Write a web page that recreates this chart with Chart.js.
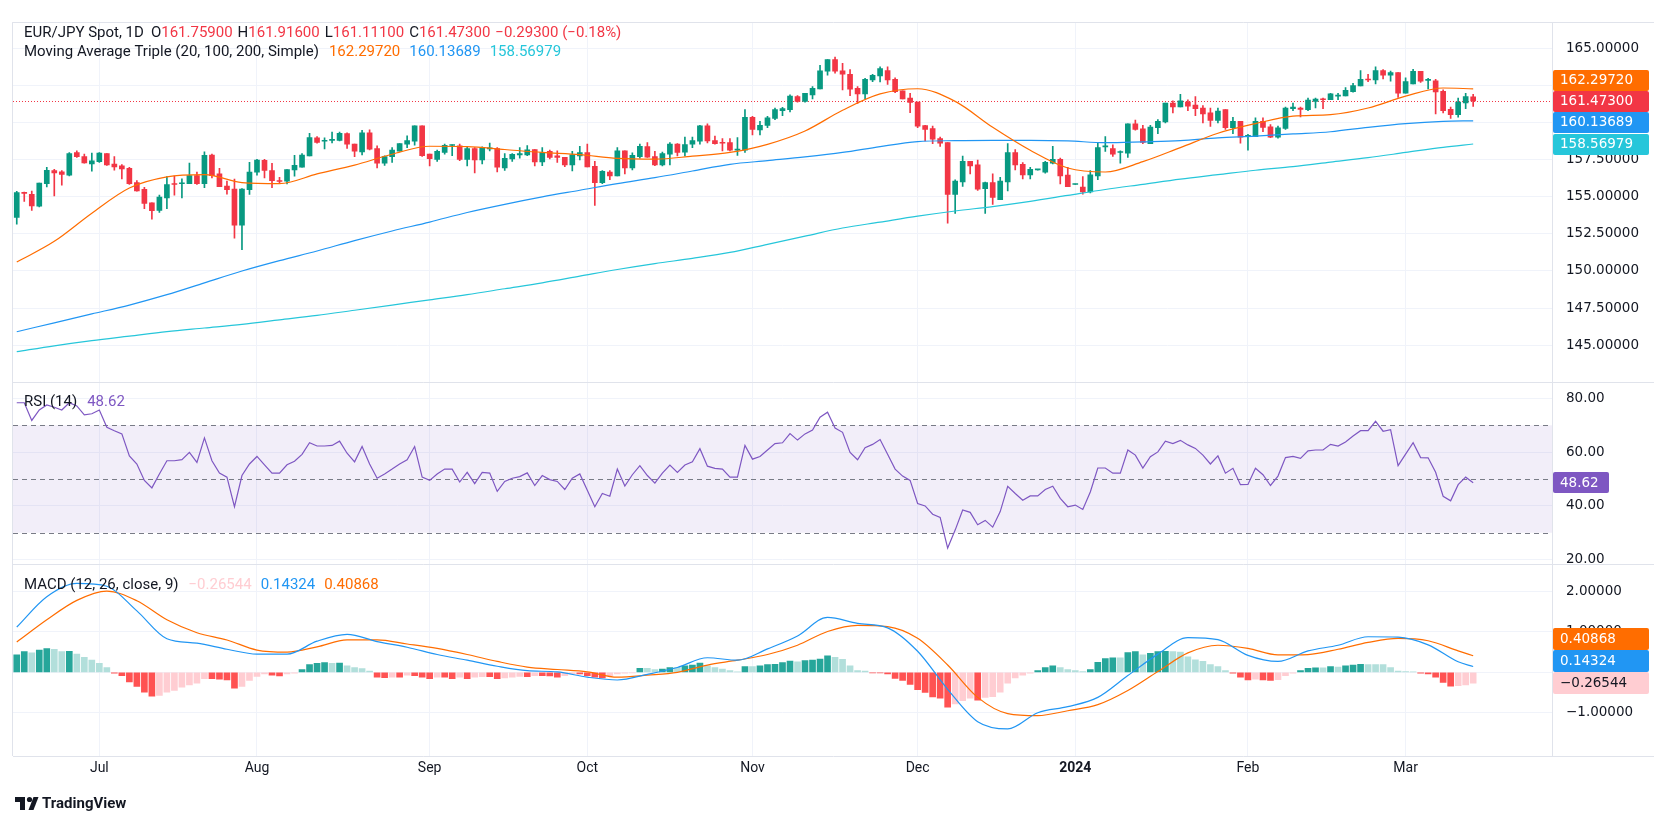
<!DOCTYPE html>
<html>
<head>
<meta charset="utf-8">
<title>EUR/JPY Spot, 1D</title>
<script src="https://cdn.jsdelivr.net/npm/chart.js@4.4.1/dist/chart.umd.min.js"></script>
<style>
html, body { margin: 0; padding: 0; background: #ffffff; }
#chartBox { position: relative; width: 1654px; height: 825px; }
canvas { display: block; }
</style>
</head>
<body>
<div id="chartBox"><canvas id="eurJpyChart" width="1654" height="825"></canvas></div>
<script>

// =====================================
// DATA
// =====================================

const firstDay = "2023-06-16";
const slotCount = 205; // 195 daily bars + empty room on the right
const monthTickText = ["Jul", "Aug", "Sep", "Oct", "Nov", "Dec", "2024", "Feb", "Mar"];

const openPrices = [
  153.62, 155.29, 155.18, 154.38, 155.89, 156.78, 156.69, 156.47, 158.00, 157.73,
  157.22, 157.38, 157.93, 157.22, 157.09, 156.93, 155.96, 155.51, 154.60, 154.09,
  154.93, 155.89, 155.89, 155.89, 156.44, 155.89, 157.82, 156.56, 155.73, 155.53,
  153.09, 155.49, 156.67, 157.47, 156.78, 156.09, 156.07, 156.82, 157.00, 157.76,
  158.98, 158.76, 158.82, 158.82, 159.27, 158.56, 158.04, 159.33, 158.27, 157.27,
  157.71, 158.09, 158.56, 158.76, 159.80, 157.89, 157.53, 158.00, 158.47, 158.44,
  157.53, 158.27, 157.49, 158.24, 158.27, 156.96, 157.56, 157.84, 157.84, 158.20,
  157.36, 158.07, 157.78, 157.67, 157.16, 157.76, 158.00, 157.07, 155.96, 156.67,
  156.42, 158.11, 156.96, 157.71, 158.40, 157.73, 157.16, 157.89, 158.56, 158.02,
  158.56, 158.76, 159.80, 158.80, 158.67, 158.67, 158.16, 158.16, 160.38, 159.53,
  159.82, 160.29, 160.82, 160.89, 161.78, 161.44, 161.89, 162.29, 163.49, 164.27,
  163.51, 163.27, 162.33, 161.96, 162.89, 163.16, 163.53, 162.93, 162.16, 161.67,
  161.40, 159.82, 159.62, 158.93, 158.67, 155.16, 156.02, 157.40, 157.16, 155.56,
  155.96, 154.82, 156.02, 158.00, 157.20, 156.49, 156.82, 156.67, 157.27, 157.53,
  156.47, 155.84, 155.67, 155.33, 156.42, 158.38, 158.27, 158.00, 157.96, 159.93,
  159.60, 158.60, 159.67, 160.07, 161.33, 161.07, 161.40, 161.20, 161.00, 160.67,
  160.16, 160.89, 159.67, 160.11, 159.09, 159.07, 160.11, 159.73, 159.04, 159.62,
  160.95, 161.00, 160.89, 161.44, 161.62, 161.56, 161.80, 161.82, 162.11, 162.49,
  162.96, 162.89, 163.53, 163.22, 163.40, 162.00, 162.62, 163.47, 162.87, 162.84,
  162.13, 160.91, 160.55, 161.35, 161.759
];

const highPrices = [
  155.38, 155.33, 155.40, 155.93, 157.00, 156.87, 156.78, 158.00, 158.11, 157.89,
  157.96, 158.00, 157.93, 157.73, 157.18, 157.00, 156.11, 155.64, 154.60, 155.13,
  156.38, 156.40, 156.22, 157.29, 156.67, 158.04, 157.89, 156.93, 156.07, 156.20,
  155.56, 157.33, 157.53, 157.53, 157.27, 156.33, 156.84, 157.80, 157.93, 159.29,
  159.07, 158.98, 159.38, 159.38, 159.33, 158.56, 159.49, 159.53, 158.44, 157.78,
  158.33, 158.60, 159.13, 159.80, 159.80, 157.89, 158.16, 158.56, 158.51, 158.56,
  158.38, 158.33, 158.38, 158.64, 158.33, 157.93, 157.93, 158.33, 158.47, 158.20,
  158.33, 158.16, 158.11, 157.67, 158.07, 158.42, 158.56, 157.40, 156.78, 156.78,
  158.33, 158.11, 157.98, 158.56, 158.67, 158.07, 158.02, 158.67, 158.60, 159.04,
  159.04, 159.84, 159.93, 159.11, 158.93, 158.93, 159.00, 160.89, 160.44, 160.11,
  160.44, 161.00, 161.04, 161.89, 161.84, 162.00, 162.44, 163.89, 164.27, 164.44,
  164.02, 163.60, 162.44, 163.00, 163.27, 163.78, 163.78, 163.04, 162.16, 162.00,
  161.40, 159.84, 159.78, 159.04, 158.67, 156.16, 157.76, 157.40, 157.49, 156.00,
  156.56, 156.33, 158.60, 158.20, 157.31, 157.00, 156.87, 157.40, 158.42, 157.62,
  157.00, 155.87, 156.38, 156.78, 158.64, 159.07, 158.51, 158.11, 159.93, 160.18,
  159.84, 159.84, 160.22, 161.33, 161.49, 161.93, 161.56, 161.78, 161.16, 161.00,
  161.00, 160.89, 160.38, 160.11, 159.22, 160.33, 160.33, 159.89, 159.78, 161.07,
  161.33, 161.07, 161.67, 161.67, 161.67, 162.00, 162.00, 162.38, 162.67, 163.53,
  163.27, 163.78, 163.60, 163.49, 163.40, 163.04, 163.62, 163.47, 163.00, 162.93,
  162.22, 161.07, 161.67, 162.00, 161.916
];

const lowPrices = [
  153.16, 154.70, 154.09, 154.33, 155.67, 155.07, 155.80, 156.42, 157.67, 157.27,
  156.73, 157.33, 157.13, 156.80, 156.22, 155.84, 155.38, 154.20, 153.49, 153.96,
  154.20, 155.11, 154.93, 155.89, 155.84, 155.62, 156.29, 155.69, 155.18, 152.22,
  151.44, 155.16, 156.47, 156.29, 155.62, 155.89, 155.87, 156.40, 157.00, 157.76,
  158.62, 158.24, 158.64, 158.78, 158.27, 157.71, 157.84, 158.18, 156.96, 157.13,
  157.33, 158.09, 158.33, 158.49, 157.73, 157.09, 157.40, 157.89, 157.78, 157.44,
  157.09, 156.62, 157.22, 158.11, 156.69, 156.78, 157.40, 157.62, 157.78, 157.09,
  157.11, 157.56, 157.33, 157.04, 156.76, 157.49, 157.02, 154.42, 155.89, 156.16,
  156.42, 156.56, 156.82, 157.62, 157.67, 157.11, 157.09, 157.16, 157.76, 157.76,
  158.33, 158.56, 158.64, 158.56, 158.11, 158.11, 157.80, 158.00, 159.18, 159.18,
  159.67, 160.22, 160.49, 160.73, 161.40, 161.40, 161.62, 162.29, 163.22, 163.36,
  162.22, 161.84, 161.31, 161.62, 162.78, 162.76, 162.60, 162.04, 161.62, 160.69,
  159.67, 158.78, 158.60, 158.40, 153.22, 153.89, 155.71, 156.56, 155.44, 153.89,
  154.49, 154.82, 155.40, 156.82, 156.22, 156.22, 156.80, 156.60, 157.22, 155.87,
  155.69, 155.84, 155.18, 155.27, 156.16, 158.07, 157.73, 157.27, 157.67, 159.51,
  158.60, 158.60, 159.27, 160.00, 160.67, 161.07, 160.82, 160.49, 160.00, 159.76,
  160.00, 159.56, 159.27, 158.62, 158.16, 159.07, 159.40, 159.00, 158.96, 159.56,
  160.82, 160.40, 160.82, 161.00, 160.96, 161.56, 161.56, 161.82, 162.07, 162.49,
  162.78, 162.62, 162.96, 162.82, 161.71, 162.00, 162.62, 162.73, 162.29, 160.60,
  160.67, 160.29, 160.38, 160.95, 161.111
];

const closePrices = [
  155.29, 155.24, 154.40, 155.93, 156.80, 156.62, 156.51, 157.93, 157.71, 157.29,
  157.44, 157.96, 157.16, 157.02, 156.89, 155.89, 155.40, 154.56, 154.07, 154.98,
  155.84, 155.84, 155.93, 156.44, 155.89, 157.80, 156.44, 155.69, 155.49, 153.09,
  155.53, 156.67, 157.49, 156.78, 156.09, 156.04, 156.84, 157.13, 157.82, 159.00,
  158.67, 158.78, 158.87, 159.29, 158.56, 158.09, 159.33, 158.22, 157.27, 157.73,
  158.16, 158.60, 158.80, 159.80, 157.78, 157.58, 158.07, 158.49, 158.51, 157.53,
  158.27, 157.49, 158.33, 158.29, 157.00, 157.60, 157.87, 157.93, 158.18, 157.36,
  158.00, 157.67, 157.67, 157.16, 157.84, 158.00, 157.02, 155.96, 156.73, 156.42,
  158.11, 156.96, 157.80, 158.42, 157.69, 157.16, 157.93, 158.56, 158.00, 158.53,
  158.80, 159.80, 158.78, 158.60, 158.62, 158.16, 158.20, 160.38, 159.56, 159.84,
  160.33, 160.89, 160.96, 161.80, 161.44, 162.00, 162.33, 163.51, 164.27, 163.49,
  163.29, 162.27, 161.96, 162.93, 163.20, 163.67, 162.89, 162.11, 161.62, 161.38,
  159.78, 159.56, 158.89, 158.62, 155.16, 156.07, 157.40, 157.09, 155.53, 155.96,
  154.96, 156.07, 158.00, 157.16, 156.49, 156.87, 156.87, 157.33, 157.53, 156.42,
  155.69, 155.87, 155.33, 156.49, 158.33, 158.44, 157.89, 158.04, 159.93, 159.56,
  158.67, 159.71, 160.11, 161.33, 161.07, 161.49, 161.13, 160.96, 160.60, 160.16,
  160.80, 159.67, 160.11, 159.04, 159.16, 160.11, 159.69, 159.04, 159.67, 161.00,
  161.07, 160.91, 161.53, 161.60, 161.56, 161.96, 161.84, 162.20, 162.51, 162.93,
  162.89, 163.53, 163.22, 163.40, 162.00, 162.78, 163.47, 162.82, 162.93, 162.09,
  160.82, 160.55, 161.40, 161.78, 161.473
];

// moving averages, one reading every maStep bars (last one on the last bar)
const maStep = 5;
const ma20 = [
  150.6, 152.0, 153.9, 155.6, 156.35, 156.5, 155.97, 155.9, 156.55, 157.15,
  157.88, 158.42, 158.4, 158.2, 158.0, 157.85, 157.6, 157.55, 157.75, 158.0,
  158.55, 159.45, 160.85, 161.95, 162.3, 161.45, 159.7, 158.15, 156.95, 156.68,
  157.38, 158.33, 159.3, 159.95, 160.45, 160.55, 161.0, 161.8, 162.35, 162.2972
];
const ma100 = [
  145.9, 146.5, 147.1, 147.7, 148.4, 149.2, 150.0, 150.7, 151.35, 152.05,
  152.7, 153.3, 153.95, 154.5, 155.0, 155.45, 155.9, 156.3, 156.75, 157.2,
  157.45, 157.7, 158.0, 158.4, 158.73, 158.8, 158.82, 158.82, 158.78, 158.66,
  158.72, 158.8, 158.98, 159.1, 159.25, 159.4, 159.7, 159.95, 160.1, 160.13689
];
const ma200 = [
  144.55, 144.95, 145.3, 145.6, 145.9, 146.15, 146.4, 146.7, 147.0, 147.35,
  147.7, 148.05, 148.4, 148.8, 149.2, 149.65, 150.1, 150.5, 150.85, 151.25,
  151.8, 152.35, 152.9, 153.3, 153.7, 154.05, 154.35, 154.7, 155.1, 155.5,
  155.85, 156.2, 156.5, 156.8, 157.05, 157.35, 157.65, 158.0, 158.35, 158.56979
];

const rsi14 = [
  78.4, 78.4, 71.8, 75.7, 77.6, 76.7, 75.7, 78.4, 77.2, 73.9,
  74.3, 75.7, 69.3, 68.0, 66.8, 58.6, 55.6, 49.5, 46.7, 51.9,
  56.8, 56.8, 57.2, 59.9, 56.2, 65.3, 56.8, 52.2, 50.7, 39.7,
  51.3, 55.6, 58.4, 55.3, 52.2, 52.2, 55.3, 56.6, 59.2, 63.5,
  62.3, 62.3, 62.5, 64.1, 59.6, 56.4, 62.1, 55.6, 50.3, 51.9,
  53.7, 55.6, 57.2, 62.1, 50.7, 49.5, 51.9, 53.7, 53.7, 48.9,
  52.5, 48.3, 52.5, 52.2, 45.4, 49.1, 50.3, 50.9, 52.3, 47.6,
  51.3, 49.8, 49.1, 46.1, 50.3, 51.9, 45.8, 39.7, 44.6, 43.6,
  53.7, 47.4, 51.6, 55.0, 51.3, 48.5, 52.2, 55.2, 52.5, 55.2,
  56.4, 61.3, 54.8, 54.0, 53.7, 50.7, 50.7, 62.5, 57.4, 58.4,
  60.8, 63.2, 63.5, 66.9, 64.5, 66.8, 68.2, 73.0, 74.9, 69.0,
  67.4, 59.9, 57.2, 61.7, 62.9, 64.7, 59.2, 53.7, 51.1, 49.5,
  40.9, 40.0, 36.9, 35.7, 24.3, 31.0, 38.5, 37.6, 33.0, 34.6,
  32.1, 37.9, 47.3, 44.6, 42.1, 43.7, 43.7, 46.1, 47.3, 42.8,
  39.7, 40.3, 38.7, 45.2, 54.1, 54.1, 52.2, 52.2, 60.8, 58.9,
  54.1, 58.3, 60.1, 64.1, 63.2, 64.4, 62.7, 61.4, 58.9, 55.6,
  58.6, 52.2, 54.0, 47.9, 48.0, 54.0, 51.6, 47.6, 51.1, 58.0,
  58.4, 57.7, 60.5, 60.8, 60.8, 62.9, 62.3, 63.8, 66.0, 68.0,
  68.0, 71.5, 67.8, 68.4, 55.0, 59.3, 63.5, 58.0, 57.9, 52.5,
  43.6, 41.9, 47.9, 50.7, 48.62
];
const rsiBand = [70, 30];
const rsiLevels = [70, 50, 30];

// MACD and signal, one reading every macdStep bars (last one on the last bar)
const macdStep = 4;
const macdLine = [
  1.12, 1.87, 2.20, 2.13, 1.52, 0.83, 0.72, 0.57, 0.45, 0.45,
  0.77, 0.94, 0.76, 0.62, 0.44, 0.30, 0.15, 0.04, 0.01, -0.12,
  -0.19, -0.05, 0.12, 0.36, 0.30, 0.58, 0.90, 1.36, 1.21, 1.10,
  0.52, -0.42, -1.22, -1.40, -1.00, -0.85, -0.62, -0.08, 0.45, 0.86,
  0.81, 0.42, 0.27, 0.53, 0.67, 0.88, 0.87, 0.68, 0.26, 0.14324
];
const signalLine = [
  0.75, 1.30, 1.78, 2.01, 1.77, 1.30, 0.98, 0.80, 0.55, 0.50,
  0.63, 0.80, 0.80, 0.70, 0.59, 0.44, 0.27, 0.13, 0.07, 0.01,
  -0.12, -0.07, 0.00, 0.18, 0.30, 0.44, 0.67, 1.01, 1.16, 1.13,
  0.84, 0.18, -0.62, -1.02, -1.07, -0.95, -0.80, -0.45, 0.02, 0.48,
  0.67, 0.59, 0.43, 0.44, 0.57, 0.74, 0.84, 0.78, 0.53, 0.40868
];
const macdHist = [
  0.43, 0.51, 0.48, 0.55, 0.59, 0.57, 0.51, 0.52, 0.45, 0.37,
  0.30, 0.22, 0.12, -0.02, -0.08, -0.24, -0.35, -0.49, -0.59, -0.57,
  -0.49, -0.45, -0.37, -0.31, -0.27, -0.16, -0.16, -0.17, -0.19, -0.39,
  -0.35, -0.20, -0.10, -0.04, -0.07, -0.09, -0.04, -0.02, 0.07, 0.19,
  0.22, 0.24, 0.22, 0.23, 0.16, 0.12, 0.09, 0.03, -0.12, -0.13,
  -0.12, -0.12, -0.07, -0.08, -0.12, -0.16, -0.12, -0.12, -0.16, -0.12,
  -0.16, -0.12, -0.11, -0.11, -0.16, -0.14, -0.12, -0.10, -0.11, -0.08,
  -0.08, -0.09, -0.12, -0.08, -0.04, -0.04, -0.08, -0.12, -0.14, -0.08,
  -0.04, -0.02, -0.01, 0.10, 0.10, 0.07, 0.08, 0.12, 0.12, 0.16,
  0.18, 0.23, 0.16, 0.12, 0.08, 0.04, 0.01, 0.14, 0.14, 0.16,
  0.19, 0.20, 0.24, 0.28, 0.26, 0.29, 0.30, 0.33, 0.41, 0.37,
  0.32, 0.16, 0.04, 0.03, -0.01, -0.01, -0.04, -0.15, -0.20, -0.30,
  -0.43, -0.50, -0.61, -0.64, -0.86, -0.78, -0.70, -0.64, -0.69, -0.62,
  -0.60, -0.49, -0.27, -0.14, -0.07, -0.02, 0.04, 0.12, 0.16, 0.12,
  0.07, 0.04, 0.02, 0.07, 0.25, 0.34, 0.36, 0.36, 0.49, 0.51,
  0.43, 0.47, 0.51, 0.52, 0.51, 0.50, 0.38, 0.31, 0.27, 0.19,
  0.14, 0.04, -0.02, -0.12, -0.19, -0.17, -0.19, -0.20, -0.18, -0.08,
  -0.02, 0.04, 0.10, 0.11, 0.11, 0.14, 0.13, 0.16, 0.18, 0.20,
  0.19, 0.19, 0.19, 0.12, 0.03, 0.02, 0.01, -0.02, -0.04, -0.12,
  -0.25, -0.34, -0.33, -0.31, -0.26544
];

const priceTicks = [145, 147.5, 150, 152.5, 155, 157.5, 160, 162.5, 165];
const rsiTicks = [20, 40, 60, 80];
const macdTicks = [-1, 0, 1, 2];


// =====================================
// COLOURS / FONTS
// =====================================

const TEXT = "#131722";
const GRID = "#f0f3fa";
const PANE_LINE = "#e0e3eb";
const UP = "#089981";
const DOWN = "#f23645";
const MA_COLORS = ["#ff6d00", "#2196f3", "#26c6da"];
const RSI_COLOR = "#7e57c2";
const MACD_COLOR = "#2196f3";
const SIGNAL_COLOR = "#ff6d00";
const FONT = "Roboto, 'Noto Sans', 'Liberation Sans', sans-serif";
const AXIS_FONT = "'DejaVu Sans', Roboto, sans-serif";
const LEGEND_PX = 15;
const AXIS_PX = 13.5;

Chart.defaults.font.family = FONT;
Chart.defaults.color = TEXT;


// =====================================
// DERIVED TABLES FOR THE LIBRARY
// =====================================

const dates = [];
const day = new Date(firstDay + "T00:00:00Z");
while (dates.length < slotCount) {
  const wd = day.getUTCDay();
  if (wd !== 0 && wd !== 6) dates.push(new Date(day));
  day.setUTCDate(day.getUTCDate() + 1);
}
const labels = dates.map(d => d.toISOString().slice(0, 10));

const tickText = labels.map(() => "");
let monthNo = 0;
for (let i = 1; i < dates.length && monthNo < monthTickText.length; i++) {
  if (dates[i].getUTCMonth() !== dates[i - 1].getUTCMonth()) {
    tickText[i] = monthTickText[monthNo++];
  }
}

const lastBar = closePrices.length - 1;

function sampled(values, step) {
  return values.map((v, k) => ({ x: labels[Math.min(k * step, lastBar)], y: v }));
}

const bodies = openPrices.map((o, i) => [o, closePrices[i]]);
const wicks = lowPrices.map((l, i) => [l, highPrices[i]]);
const candleColors = openPrices.map((o, i) => closePrices[i] >= o ? UP : DOWN);

const histColors = macdHist.map((h, i) => {
  const prev = i > 0 ? macdHist[i - 1] : 0;
  if (h >= 0) return prev < h ? "#26a69a" : "#b2dfdb";
  return prev < h ? "#ffcdd2" : "#ff5252";
});

function fmt(v, digits) {
  const s = Math.abs(v).toFixed(digits);
  return v < 0 ? "\u2212" + s : s;
}


// =====================================
// PANE SCALES
// =====================================

function paneScale(weight, min, max, ticks, digits) {
  return {
    type: "linear",
    position: "right",
    stack: "panes",
    stackWeight: weight,
    min: min,
    max: max,
    afterBuildTicks: s => { s.ticks = ticks.map(v => ({ value: v })); },
    afterFit: s => { s.width = 102; },
    grid: { color: GRID, drawTicks: false },
    border: { color: PANE_LINE },
    ticks: {
      color: TEXT,
      padding: 14,
      font: { family: AXIS_FONT, size: AXIS_PX },
      callback: v => fmt(v, digits)
    }
  };
}


// =====================================
// OVERLAYS (legend texts, bands, value boxes)
// =====================================

function drawParts(ctx, x, y, parts) {
  ctx.font = LEGEND_PX + "px " + FONT;
  ctx.textBaseline = "middle";
  ctx.textAlign = "left";
  for (const [text, color, gap] of parts) {
    ctx.fillStyle = color;
    ctx.fillText(text, x, y);
    x += ctx.measureText(text).width + gap;
  }
}

function drawBoxes(ctx, scale, items, h, left) {
  items.forEach(it => { it.y = scale.getPixelForValue(it.v); });
  items.sort((a, b) => a.y - b.y);
  const a = items.findIndex(it => it.anchor);
  for (let j = a - 1; j >= 0; j--) items[j].y = Math.min(items[j].y, items[j + 1].y - h);
  for (let j = a + 1; j < items.length; j++) items[j].y = Math.max(items[j].y, items[j - 1].y + h);
  ctx.font = AXIS_PX + "px " + AXIS_FONT;
  ctx.textBaseline = "middle";
  ctx.textAlign = "left";
  for (const it of items) {
    ctx.fillStyle = it.bg;
    ctx.beginPath();
    ctx.roundRect(left, Math.round(it.y - h / 2), it.w, h, 2);
    ctx.fill();
    ctx.fillStyle = it.fg;
    ctx.fillText(it.text, left + 7, it.y + 0.5);
  }
}

const overlays = {
  id: "overlays",
  beforeDatasetsDraw(chart) {
    const { ctx, chartArea: area, scales } = chart;
    const r = scales.yRsi;
    ctx.save();
    const yTop = r.getPixelForValue(rsiBand[0]);
    const yBot = r.getPixelForValue(rsiBand[1]);
    ctx.fillStyle = "rgba(126, 87, 194, 0.1)";
    ctx.fillRect(area.left, yTop, area.right - area.left, yBot - yTop);
    ctx.strokeStyle = "#787b86";
    ctx.lineWidth = 1;
    ctx.setLineDash([5, 4]);
    for (const lv of rsiLevels) {
      const y = Math.round(r.getPixelForValue(lv)) + 0.5;
      ctx.beginPath();
      ctx.moveTo(area.left, y);
      ctx.lineTo(area.right, y);
      ctx.stroke();
    }
    const yp = Math.round(scales.yPrice.getPixelForValue(closePrices[lastBar])) + 0.5;
    ctx.strokeStyle = DOWN;
    ctx.setLineDash([1, 2]);
    ctx.beginPath();
    ctx.moveTo(area.left, yp);
    ctx.lineTo(area.right, yp);
    ctx.stroke();
    ctx.restore();
  },
  afterDraw(chart) {
    const { ctx, chartArea: area, scales } = chart;
    const W = chart.width;
    ctx.save();

    // frame and pane separators
    ctx.strokeStyle = PANE_LINE;
    ctx.lineWidth = 1;
    ctx.setLineDash([]);
    for (const y of [area.top, scales.yRsi.top, scales.yMacd.top, area.bottom]) {
      const yy = Math.round(y) + 0.5;
      ctx.beginPath();
      ctx.moveTo(area.left, yy);
      ctx.lineTo(W, yy);
      ctx.stroke();
    }
    ctx.beginPath();
    ctx.moveTo(Math.round(area.left) - 0.5, area.top);
    ctx.lineTo(Math.round(area.left) - 0.5, area.bottom);
    ctx.stroke();

    // legends
    const x0 = area.left + 11;
    drawParts(ctx, x0, 33, [
      ["EUR/JPY Spot, 1D", TEXT, 7],
      ["O", TEXT, 0], [openPrices[lastBar].toFixed(5), DOWN, 5],
      ["H", TEXT, 0], [highPrices[lastBar].toFixed(5), DOWN, 5],
      ["L", TEXT, 0], [lowPrices[lastBar].toFixed(5), DOWN, 5],
      ["C", TEXT, 0], [closePrices[lastBar].toFixed(5), DOWN, 5],
      ["\u22120.29300 (\u22120.18%)", DOWN, 0]
    ]);
    drawParts(ctx, x0, 52, [
      ["Moving Average Triple (20, 100, 200, Simple)", TEXT, 10],
      [ma20[ma20.length - 1].toFixed(5), MA_COLORS[0], 9],
      [ma100[ma100.length - 1].toFixed(5), MA_COLORS[1], 9],
      [ma200[ma200.length - 1].toFixed(5), MA_COLORS[2], 0]
    ]);
    drawParts(ctx, x0, scales.yRsi.top + 21, [
      ["RSI (14)", TEXT, 10],
      [rsi14[lastBar].toFixed(2), RSI_COLOR, 0]
    ]);
    drawParts(ctx, x0, scales.yMacd.top + 21, [
      ["MACD (12, 26, close, 9)", TEXT, 10],
      [fmt(macdHist[lastBar], 5), "#ffcdd2", 9],
      [fmt(macdLine[macdLine.length - 1], 5), MACD_COLOR, 9],
      [fmt(signalLine[signalLine.length - 1], 5), SIGNAL_COLOR, 0]
    ]);

    // value boxes on the right scales
    const bx = area.right + 1;
    drawBoxes(ctx, scales.yPrice, [
      { v: ma20[ma20.length - 1], bg: MA_COLORS[0], fg: "#ffffff", w: 96, text: ma20[ma20.length - 1].toFixed(5) },
      { v: closePrices[lastBar], bg: DOWN, fg: "#ffffff", w: 96, text: closePrices[lastBar].toFixed(5), anchor: true },
      { v: ma100[ma100.length - 1], bg: MA_COLORS[1], fg: "#ffffff", w: 96, text: ma100[ma100.length - 1].toFixed(5) },
      { v: ma200[ma200.length - 1], bg: MA_COLORS[2], fg: "#ffffff", w: 96, text: ma200[ma200.length - 1].toFixed(5) }
    ], 21, bx);
    drawBoxes(ctx, scales.yRsi, [
      { v: rsi14[lastBar], bg: RSI_COLOR, fg: "#ffffff", w: 56, text: rsi14[lastBar].toFixed(2), anchor: true }
    ], 21, bx);
    drawBoxes(ctx, scales.yMacd, [
      { v: signalLine[signalLine.length - 1], bg: SIGNAL_COLOR, fg: "#ffffff", w: 96, text: fmt(signalLine[signalLine.length - 1], 5) },
      { v: macdLine[macdLine.length - 1], bg: MACD_COLOR, fg: "#ffffff", w: 96, text: fmt(macdLine[macdLine.length - 1], 5) },
      { v: macdHist[lastBar], bg: "#ffcdd2", fg: TEXT, w: 96, text: fmt(macdHist[lastBar], 5), anchor: true }
    ], 22, bx);

    // TradingView mark
    ctx.fillStyle = TEXT;
    ctx.fillRect(15, 797, 10, 5);
    ctx.fillRect(20, 797, 5, 13);
    ctx.beginPath();
    ctx.arc(29.5, 799.5, 2.6, 0, Math.PI * 2);
    ctx.fill();
    ctx.beginPath();
    ctx.moveTo(33.5, 797);
    ctx.lineTo(38.5, 797);
    ctx.lineTo(33.5, 810);
    ctx.lineTo(28.5, 810);
    ctx.closePath();
    ctx.fill();
    ctx.font = "bold 15px " + FONT;
    ctx.textBaseline = "middle";
    ctx.fillText("TradingView", 42, 804);
    ctx.restore();
  }
};


// =====================================
// CHART
// =====================================

const eurJpyChart = new Chart(
  document.getElementById("eurJpyChart"),
  {
    type: "bar",
    data: {
      labels: labels,
      datasets: [
        { type: "line", yAxisID: "yPrice", order: 1, data: sampled(ma20, maStep), borderColor: MA_COLORS[0], borderWidth: 1.2, pointRadius: 0, cubicInterpolationMode: "monotone" },
        { type: "line", yAxisID: "yPrice", order: 1, data: sampled(ma100, maStep), borderColor: MA_COLORS[1], borderWidth: 1.2, pointRadius: 0, cubicInterpolationMode: "monotone" },
        { type: "line", yAxisID: "yPrice", order: 1, data: sampled(ma200, maStep), borderColor: MA_COLORS[2], borderWidth: 1.2, pointRadius: 0, cubicInterpolationMode: "monotone" },
        { type: "bar", yAxisID: "yPrice", order: 2, data: bodies, backgroundColor: candleColors, barThickness: 5, minBarLength: 1, grouped: false },
        { type: "bar", yAxisID: "yPrice", order: 3, data: wicks, backgroundColor: candleColors, barThickness: 1, grouped: false },
        { type: "line", yAxisID: "yRsi", order: 1, data: rsi14, borderColor: RSI_COLOR, borderWidth: 1.2, pointRadius: 0, tension: 0 },
        { type: "line", yAxisID: "yMacd", order: 1, data: sampled(macdLine, macdStep), borderColor: MACD_COLOR, borderWidth: 1.2, pointRadius: 0, cubicInterpolationMode: "monotone" },
        { type: "line", yAxisID: "yMacd", order: 1, data: sampled(signalLine, macdStep), borderColor: SIGNAL_COLOR, borderWidth: 1.2, pointRadius: 0, cubicInterpolationMode: "monotone" },
        { type: "bar", yAxisID: "yMacd", order: 3, data: macdHist, backgroundColor: histColors, barThickness: 6, grouped: false }
      ]
    },
    options: {
      responsive: false,
      animation: false,
      devicePixelRatio: 1,
      layout: { padding: { left: 13, top: 13, right: 0, bottom: 45 } },
      plugins: { legend: { display: false }, tooltip: { enabled: false } },
      events: [],
      scales: {
        x: {
          type: "category",
          offset: true,
          afterFit: s => { s.height = 24; },
          grid: {
            offset: false,
            drawTicks: false,
            color: c => tickText[c.index] ? GRID : "rgba(0,0,0,0)"
          },
          border: { display: false },
          ticks: {
            autoSkip: false,
            maxRotation: 0,
            padding: 4,
            color: TEXT,
            font: c => ({ size: 14, weight: tickText[c.index] === "2024" ? "bold" : "normal" }),
            callback: (v, i) => tickText[i]
          }
        },
        yPrice: paneScale(364, 142.53, 166.8, priceTicks, 5),
        yRsi: paneScale(185, 18.24, 86.25, rsiTicks, 2),
        yMacd: paneScale(194, -2.07, 2.67, macdTicks, 5)
      }
    },
    plugins: [overlays]
  }
);
</script>
</body>
</html>
